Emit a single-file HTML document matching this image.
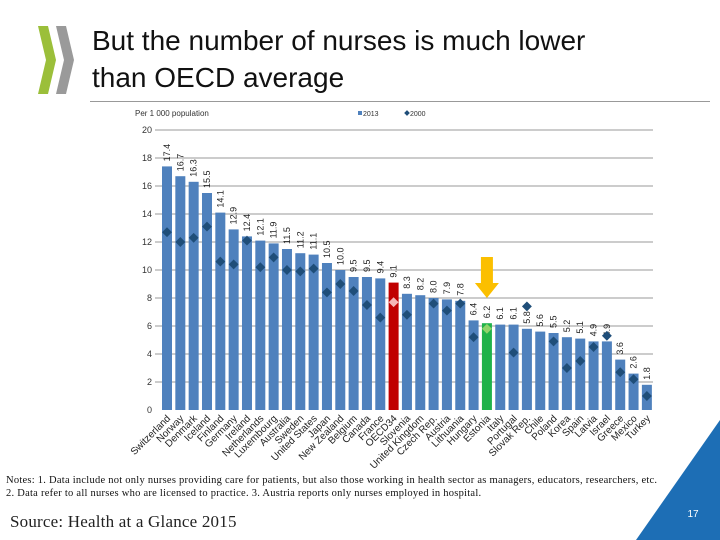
<!DOCTYPE html>
<html><head><meta charset="utf-8"><style>
body{margin:0;width:720px;height:540px;overflow:hidden;background:#fff;font-family:"Liberation Sans",sans-serif;position:relative}
.t{position:absolute;left:92px;font-size:28px;color:#111;line-height:32px}
</style></head><body>
<svg style="position:absolute;left:36px;top:22px" width="42" height="76">
<polygon points="2,4 12,4 20,38 12,72 2,72 10,38" fill="#9bbf3a"/>
<polygon points="20,4 30,4 38,38 30,72 20,72 28,38" fill="#9a9a9a"/>
</svg>
<div class="t" style="top:25px">But the number of nurses is much lower</div>
<div class="t" style="top:62px">than OECD average</div>
<div style="position:absolute;left:90px;top:101px;width:620px;height:1px;background:#999"></div>
<svg id="c" style="position:absolute;left:0;top:0" width="720" height="470"></svg>
<div style="position:absolute;left:6px;top:474px;font-family:'Liberation Serif',serif;font-size:10.5px;letter-spacing:0.25px;line-height:13px;color:#111;white-space:nowrap">Notes: 1. Data include not only nurses providing care for patients, but also those working in health sector as managers, educators, researchers, etc.<br>2. Data refer to all nurses who are licensed to practice. 3. Austria reports only nurses employed in hospital.</div>
<div style="position:absolute;left:10px;top:512px;font-family:'Liberation Serif',serif;font-size:17px;letter-spacing:0.2px;color:#222">Source: Health at a Glance 2015</div>
<svg style="position:absolute;left:0;top:0" width="720" height="540"><polygon points="720,420 720,540 636,540" fill="#1d6eb5"/><text x="693" y="517" font-size="10" fill="#fff" text-anchor="middle">17</text></svg>
<script>
const countries=["Switzerland","Norway","Denmark","Iceland","Finland","Germany","Ireland","Netherlands","Luxembourg","Australia","Sweden","United States","Japan","New Zealand","Belgium","Canada","France","OECD34","Slovenia","United Kingdom","Czech Rep.","Austria","Lithuania","Hungary","Estonia","Italy","Portugal","Slovak Rep.","Chile","Poland","Korea","Spain","Latvia","Israel","Greece","Mexico","Turkey"];
const v2013=[17.4,16.7,16.3,15.5,14.1,12.9,12.4,12.1,11.9,11.5,11.2,11.1,10.5,10.0,9.5,9.5,9.4,9.1,8.3,8.2,8.0,7.9,7.8,6.4,6.2,6.1,6.1,5.8,5.6,5.5,5.2,5.1,4.9,4.9,3.6,2.6,1.8];
const v2000=[12.7,12.0,12.3,13.1,10.6,10.4,12.1,10.2,10.9,10.0,9.9,10.1,8.4,9.0,8.5,7.5,6.6,7.7,6.8,null,7.6,7.1,7.6,5.2,5.8,null,4.1,7.4,null,4.9,3.0,3.5,4.5,5.3,2.7,2.2,1.0];
const yTicks=[0,2,4,6,8,10,12,14,16,18,20];
const svg=document.getElementById('c');const NS='http://www.w3.org/2000/svg';
const y=v=>410-v*14;const x=i=>167+i*13.33;
function mk(t,a,p){const e=document.createElementNS(NS,t);for(const k in a)e.setAttribute(k,a[k]);(p||svg).appendChild(e);return e;}
yTicks.forEach(t=>{
 if(t>0){const l=mk('line',{x1:155,x2:653,y1:y(t),y2:y(t),stroke:'#999','stroke-width':1});
 
 }
 const tx=mk('text',{x:152,y:y(t)+3,'font-size':9,'text-anchor':'end',fill:'#333'});tx.textContent=t;
 
 
});
const hdr=mk('text',{x:135,y:116,'font-size':8,fill:'#333'});hdr.textContent='Per 1 000 population';


const lg=mk('g',{});

mk('rect',{x:358,y:111,width:4,height:4,fill:'#4f81bd'},lg);
mk('text',{x:363,y:116,'font-size':7,fill:'#333'},lg).textContent='2013';
mk('rect',{x:405,y:111,width:4,height:4,fill:'#1f4e79',transform:'rotate(45 407 113)'},lg);
mk('text',{x:410,y:116,'font-size':7,fill:'#333'},lg).textContent='2000';
v2013.forEach((v,i)=>{
 const col=i===17?'#c00000':i===24?'#1fb24a':'#4f81bd';
 const r=mk('rect',{x:x(i)-5,y:y(v),width:10,height:410-y(v),fill:col});
 
 
 const t=mk('text',{x:x(i)+3,y:y(v)-5,'font-size':9,fill:'#222',transform:`rotate(-90 ${x(i)+3} ${y(v)-5})`});t.textContent=v.toFixed(1);
 
 
 const c=mk('text',{x:x(i)+4,y:419,'font-size':10,fill:'#222','text-anchor':'end',transform:`rotate(-45 ${x(i)+4} 419)`});c.textContent=countries[i];
 
 
});
v2000.forEach((v,i)=>{if(v==null)return;
 const col=i===17?'#f4b6b6':i===24?'#8fd36a':'#1f4e79';
 const d=mk('rect',{x:x(i)-3.5,y:y(v)-3.5,width:7,height:7,fill:col,transform:`rotate(45 ${x(i)} ${y(v)})`});
 
 
});
const ar=mk('polygon',{points:`${x(24)-6},257 ${x(24)+6},257 ${x(24)+6},283 ${x(24)+12},283 ${x(24)},298 ${x(24)-12},283 ${x(24)-6},283`,fill:'#fbbf00'});


</script>
</body></html>
